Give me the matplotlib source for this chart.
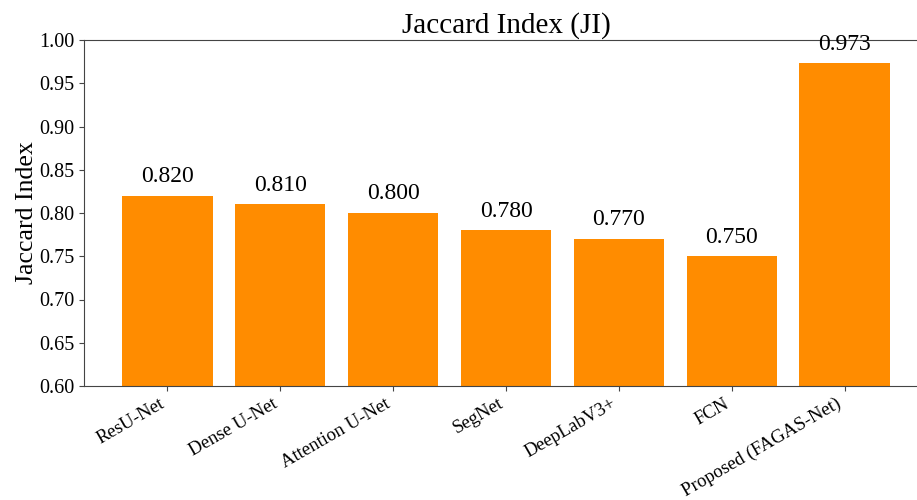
import matplotlib
matplotlib.use("Agg")
import matplotlib.pyplot as plt

models = ["ResU-Net", "Dense U-Net", "Attention U-Net", "SegNet",
          "DeepLabV3+", "FCN", "Proposed (FAGAS-Net)"]
ji_scores = [0.820, 0.810, 0.800, 0.780, 0.770, 0.750, 0.973]
y_ticks = [0.60, 0.65, 0.70, 0.75, 0.80, 0.85, 0.90, 0.95, 1.00]

plt.rcParams["font.family"] = ["Liberation Serif", "DejaVu Serif"]

fig = plt.figure(figsize=(9.17, 5.0), dpi=100)
ax = fig.add_axes([84 / 917, 1 - 386 / 500, (928 - 84) / 917, (386 - 40) / 500])

x = range(len(models))
ax.bar(x, ji_scores, width=0.8, color="#FF8C00")
for xi, v in zip(x, ji_scores):
    ax.text(xi, v + 0.01, f"{v:.3f}", ha="center", va="bottom", fontsize=17)

ax.set_ylim(0.60, 1.00)
ax.set_yticks(y_ticks)
ax.set_yticklabels([f"{t:.2f}" for t in y_ticks], fontsize=14.5)
ax.set_xticks(list(x))
ax.set_xticklabels(models, rotation=30, ha="right", fontsize=13.5)
ax.tick_params(axis="x", pad=3)
ax.set_ylabel("Jaccard Index", fontsize=18.5, labelpad=1)
ax.set_title("Jaccard Index (JI)", fontsize=21, pad=5)
for s in ax.spines.values():
    s.set_color("#444444")
ax.tick_params(color="#444444")

fig.savefig("out.png", dpi=100)
